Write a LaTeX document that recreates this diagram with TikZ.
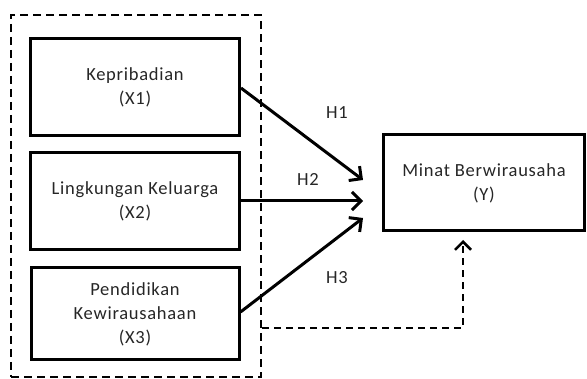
\documentclass[tikz,border=0pt]{standalone}
\usepackage{fontspec}
\setmainfont{Carlito}[LetterSpace=4]
\usetikzlibrary{arrows.meta}
\begin{document}
\begin{tikzpicture}[x=1pt,y=-1pt,
  varbox/.style={draw=black,line width=3pt,minimum width=#1,align=center,
    font=\fontsize{18.5}{24}\selectfont,inner sep=0pt,text=black!85},
  hlabel/.style={font=\fontsize{18.5}{20}\selectfont,text=black!85},
  path/.style={line width=3pt,-{Straight Barb[length=9pt,width=18pt,line width=3pt]}},
  dpath/.style={line width=2pt,dash pattern=on 7pt off 5pt,-{Straight Barb[length=8pt,width=16pt,line width=2.5pt]}},
  groupbox/.style={draw=black,line width=2pt,dash pattern=on 8pt off 5pt}]
\useasboundingbox (0,0) rectangle (587,379);
\node[groupbox,minimum width=250pt,minimum height=362pt,inner sep=0pt] (grp) at (136,196) {};
\node[varbox=209pt,minimum height=97pt] (x1) at (135,87) {Kepribadian\\(X1)};
\node[varbox=209pt,minimum height=97pt] (x2) at (135,201) {Lingkungan Keluarga\\(X2)};
\node[varbox=208pt,minimum height=92pt] (x3) at (135,314) {Pendidikan\\Kewirausahaan\\(X3)};
\node[varbox=201pt,minimum height=96pt] (y) at (484,183) {Minat Berwirausaha\\(Y)};
\coordinate (t1) at (363,180);
\coordinate (t2) at (363,201);
\coordinate (t3) at (363,218);
\draw[path] (x1.east |- 0,88) -- (t1);
\draw[path] (x2.east) -- (t2);
\draw[path] (x3.east |- 0,312) -- (t3);
\node[hlabel] (h1) at (337,113) {H1};
\node[hlabel] (h2) at (308,180) {H2};
\node[hlabel] (h3) at (337,278) {H3};
\coordinate (d0) at (grp.east |- 0,328);
\coordinate (d1) at (463,328);
\coordinate (d2) at (463,240);
\draw[dpath] (d0) -- (d1) -- (d2);
\end{tikzpicture}
\end{document}
